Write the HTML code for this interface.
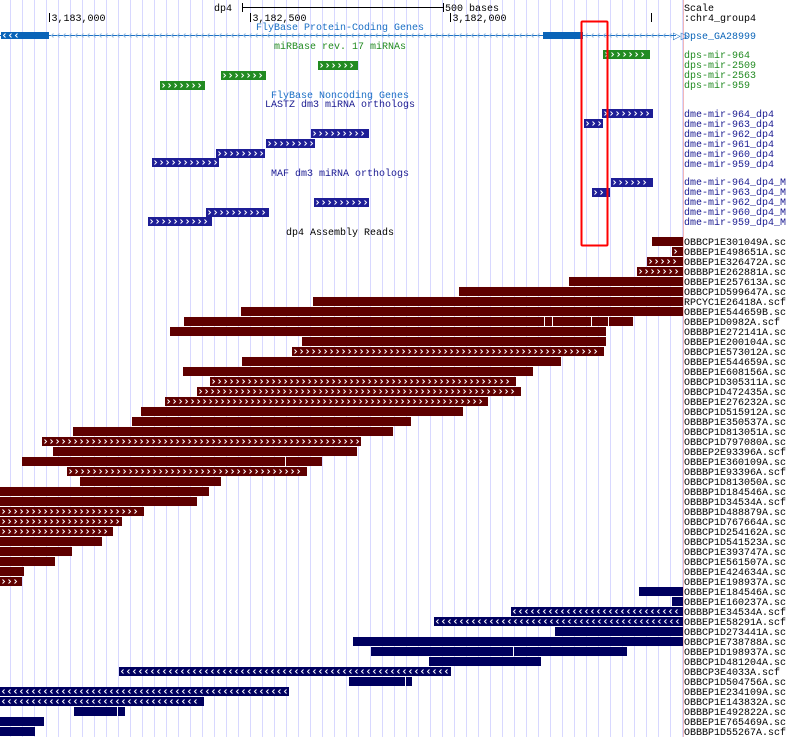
<!DOCTYPE html>
<html><head><meta charset="utf-8"><style>
html,body{margin:0;padding:0;background:#fff;width:800px;height:737px;overflow:hidden}
svg text{font-family:"Liberation Mono",monospace;font-size:10px}
</style></head><body>
<svg id="s" width="800" height="737" xmlns="http://www.w3.org/2000/svg">
<g id="grid"></g>
<line x1="683.5" y1="0" x2="683.5" y2="737" stroke="#f2b8b8"/>
<g id="bars"></g>
<g id="txt"></g>
</svg>
<script>
var NS="http://www.w3.org/2000/svg";
function el(p,t,a,tx){var e=document.createElementNS(NS,t);for(var k in a)e.setAttribute(k,a[k]);if(tx!=null)e.textContent=tx;document.getElementById(p).appendChild(e);return e;}
for(var x=10.5;x<683;x+=12)el("grid","line",{x1:x,y1:0,x2:x,y2:737,stroke:"#d8d8ff"});
function chev(x1,x2,y,h,dir,col){var d="",cy=y+h/2;for(var x=x1+2;x+4<=x2-1;x+=6){if(dir=="r")d+="M"+(x+0.5)+" "+(cy-2)+"L"+(x+2.5)+" "+cy+"L"+(x+0.5)+" "+(cy+2);else d+="M"+(x+2.5)+" "+(cy-2)+"L"+(x+0.5)+" "+cy+"L"+(x+2.5)+" "+(cy+2);}
if(d)el("bars","path",{d:d,stroke:col||"#fff",fill:"none","stroke-width":1});}
function bar(x1,x2,y,c,ch,h){h=h||9;el("bars","rect",{x:x1,y:y,width:x2-x1,height:h,fill:c});if(ch)chev(x1,x2,y,h,ch=="cr"?"r":"l");}
function t(x,y,s,c,anchor){el("txt","text",{x:x,y:y,fill:c||"#000","text-anchor":anchor||"start"},s);}
// scale
el("bars","line",{x1:242.5,y1:7.5,x2:443,y2:7.5,stroke:"#000"});
el("bars","line",{x1:242.5,y1:3,x2:242.5,y2:12,stroke:"#000"});
el("bars","line",{x1:443.5,y1:3,x2:443.5,y2:12,stroke:"#000"});
t(214,11,"dp4");t(445,11,"500 bases");
[[49.5,"3,183,000"],[250.5,"3,182,500"],[450.5,"3,182,000"],[651.5,""]].forEach(function(a){el("bars","line",{x1:a[0],y1:13,x2:a[0],y2:22,stroke:"#000"});t(a[0]+2,21,a[1]);});
t(684,11,"Scale");t(684,21,":chr4_group4");
// gene
t(340,30,"FlyBase Protein-Coding Genes","#1a6fc4","middle");
el("bars","line",{x1:0,y1:35.5,x2:676,y2:35.5,stroke:"#1a6fc4"});
chev(49,676,31,9,"l","#8fb8e0");
bar(1,49,32,"#0a64b8",null,7);bar(543,583,32,"#0a64b8",null,7);
chev(1,20,32,7,"l");
t(673,39,"▷▷","#1a6fc4");
t(684,39,"Dpse_GA28999","#0a64b8");
// miRBase
t(340,49,"miRBase rev. 17 miRNAs","#228b22","middle");
bar(603,650,50,"#228b22","cr");bar(318,358,61,"#228b22","cr");bar(221,266,71,"#228b22","cr");bar(160,205,81,"#228b22","cr");
["dps-mir-964","dps-mir-2509","dps-mir-2563","dps-mir-959"].forEach(function(s,i){t(684,58+i*10,s,"#228b22");});
t(340,98,"FlyBase Noncoding Genes","#1a6fc4","middle");
t(340,107,"LASTZ dm3 miRNA orthologs","#1a1a90","middle");
var L=[[602,653],[584,603],[311,369],[266,315],[216,265],[152,219]];
L.forEach(function(a,i){bar(a[0],a[1],109+i*10-(i==5?1:0),"#1e1e96","cr");});
["dme-mir-964_dp4","dme-mir-963_dp4","dme-mir-962_dp4","dme-mir-961_dp4","dme-mir-960_dp4","dme-mir-959_dp4"].forEach(function(s,i){t(684,117+i*10,s,"#1a1a90");});
t(340,176,"MAF dm3 miRNA orthologs","#1a1a90","middle");
var M=[[611,653,178],[592,610,188],[314,369,198],[206,269,208],[148,212,217]];
M.forEach(function(a){bar(a[0],a[1],a[2],"#1e1e96","cr");});
["dme-mir-964_dp4_M","dme-mir-963_dp4_M","dme-mir-962_dp4_M","dme-mir-960_dp4_M","dme-mir-959_dp4_M"].forEach(function(s,i){t(684,185+i*10,s,"#1a1a90");});
t(340,235,"dp4 Assembly Reads","#000","middle");
// reads
var R="#5f0000",B="#00005f";
var rows=[
[652,683,R,0,"OBBCP1E301049A.sc"],[672,683,R,"cr","OBBEP1E498651A.sc"],[647,683,R,"cr","OBBEP1E326472A.sc"],[637,683,R,"cr","OBBBP1E262881A.sc"],
[569,683,R,0,"OBBEP1E257613A.sc"],[459,683,R,0,"OBBCP1D599647A.sc"],[313,683,R,0,"RPCYC1E26418A.scf"],[241,683,R,0,"OBBEP1E544659B.sc"],
[184,633,R,0,"OBBEP1D0982A.scf"],[170,606,R,0,"OBBBP1E272141A.sc"],[302,606,R,0,"OBBEP1E200104A.sc"],[292,604,R,"cr","OBBCP1E573012A.sc"],
[242,561,R,0,"OBBEP1E544659A.sc"],[183,533,R,0,"OBBEP1E608156A.sc"],[210,516,R,"cr","OBBCP1D305311A.sc"],[197,521,R,"cr","OBBCP1D472435A.sc"],
[165,488,R,"cr","OBBEP1E276232A.sc"],[141,463,R,0,"OBBCP1D515912A.sc"],[132,411,R,0,"OBBBP1E350537A.sc"],[73,393,R,0,"OBBCP1D813051A.sc"],
[42,361,R,"cr","OBBCP1D797080A.sc"],[53,357,R,0,"OBBEP2E93396A.scf"],[22,322,R,0,"OBBEP1E360109A.sc"],[67,307,R,"cr","OBBBP1E93396A.scf"],
[80,221,R,0,"OBBCP1D813050A.sc"],[0,209,R,0,"OBBBP1D184546A.sc"],[0,197,R,0,"OBBBP1D34534A.scf"],[0,144,R,"cr","OBBBP1D488879A.sc"],
[0,122,R,"cr","OBBCP1D767664A.sc"],[0,113,R,"cr","OBBCP1D254162A.sc"],[0,102,R,0,"OBBCP1D541523A.sc"],[0,72,R,0,"OBBCP1E393747A.sc"],
[0,55,R,0,"OBBCP1E561507A.sc"],[0,24,R,0,"OBBEP1E424634A.sc"],[0,22,R,"cr","OBBEP1E198937A.sc"],
[639,683,B,0,"OBBEP1E184546A.sc"],[672,683,B,0,"OBBEP1E160237A.sc"],[511,683,B,"cl","OBBBP1E34534A.scf"],[434,683,B,"cl","OBBEP1E58291A.scf"],
[555,683,B,0,"OBBCP1D273441A.sc"],[353,683,B,0,"OBBCP1E738788A.sc"],[371,627,B,0,"OBBEP1D198937A.sc"],[429,541,B,0,"OBBCP1D481204A.sc"],
[119,451,B,"cl","OBBCP3E4033A.scf"],[349,412,B,0,"OBBCP1D504756A.sc"],[0,289,B,"cl","OBBEP1E234109A.sc"],[0,204,B,"cl","OBBCP1E143832A.sc"],
[74,125,B,0,"OBBBP1E492822A.sc"],[0,44,B,0,"OBBEP1E765469A.sc"],[0,35,B,0,"OBBBP1D55267A.scf"]];
rows.forEach(function(r,i){var y=237+i*10;bar(r[0],r[1],y,r[2],r[3]||null);t(684,y+8,r[4]);});
// small gaps in some reads
[[332,243],[544,317],[552,317],[591,317],[608,317],[285,457],[513,647],[405,677],[117,707]].forEach(function(g){el("bars","rect",{x:g[0],y:g[1],width:1,height:9,fill:"#fff"});});
// red box
el("txt","rect",{x:581.5,y:21.5,width:26,height:224,fill:"none",stroke:"#f00","stroke-width":2,rx:1});
</script>
</body></html>
